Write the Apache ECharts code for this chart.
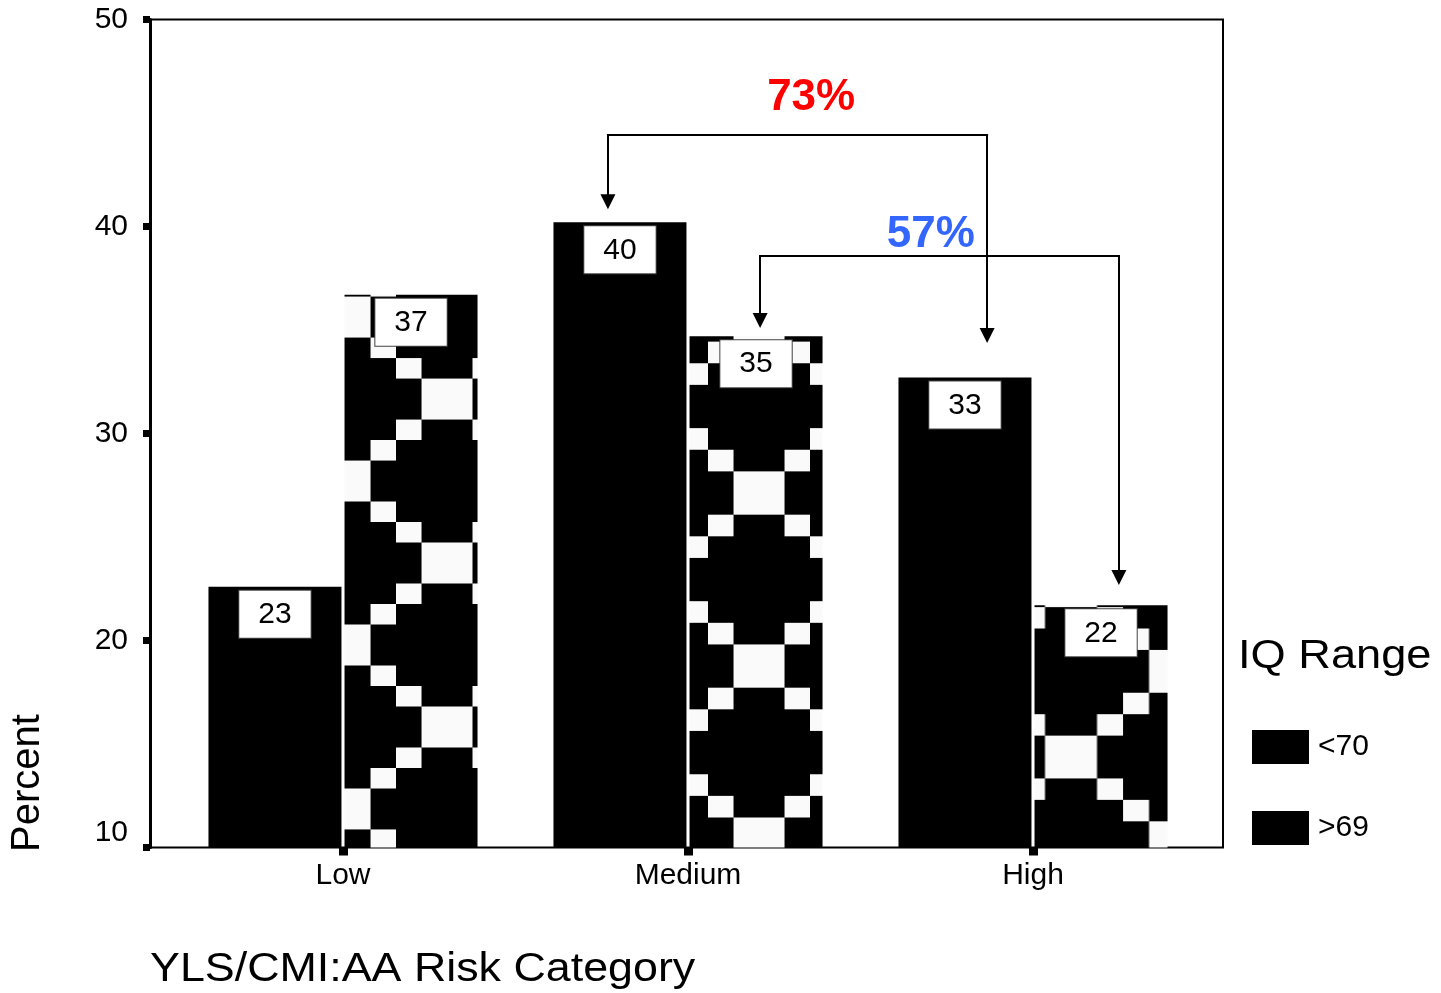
<!DOCTYPE html>
<html>
<head>
<meta charset="utf-8">
<script src="https://cdn.jsdelivr.net/npm/echarts@6/dist/echarts.min.js"></script>
<style>
html,body{margin:0;padding:0;background:#ffffff;}
#chart{width:1441px;height:993px;}
</style>
</head>
<body>
<div id="chart"></div>
<script>
// ---------------- data ----------------
const categories = ['Low', 'Medium', 'High'];
const seriesNames = ['<70', '>69'];
const below70 = [22.6, 40.2, 32.7];
const above69 = [36.7, 34.7, 21.7];
const yMin = 10, yMax = 50, yStep = 10;
const xAxisTitle = 'YLS/CMI:AA Risk Category';
const yAxisTitle = 'Percent';
const legendTitle = 'IQ Range';

// bracket annotations (x in category-index units, y in percent)
const bracketLabels = ['73%', '57%'];
const bracketX1 = [0.768, 1.209];
const bracketX2 = [1.867, 2.249];
const bracketTop = [44.42, 38.57];
const bracketEnd1 = [41.2, 35.46];
const bracketEnd2 = [34.73, 23.04];
const bracketLabelX = [1.357, 1.704];
const bracketLabelY = [46.21, 39.59];

// ---------------- styles ----------------
const FONT = '"Liberation Sans", Arial, Helvetica, sans-serif';
const bracketColors = ['#ff0000', '#3366ff'];
const patternPhase = [
  {x: 345, y: 481, sx: 1.0, sy: 0.976},
  {x: 759, y: 493, sx: 1.0, sy: 1.03},
  {x: 1071, y: 757, sx: 1.02, sy: 1.02}
];

function makeTile() {
  const u = 25.5, r = 21;
  const c = document.createElement('canvas');
  c.width = Math.round(8 * u); c.height = 8 * r;
  const g = c.getContext('2d');
  g.fillStyle = '#000'; g.fillRect(0, 0, c.width, c.height);
  g.fillStyle = '#fafafa';
  const cells = [
    [3, 3, 2, 2], [0, 0, 1, 1], [7, 0, 1, 1], [0, 7, 1, 1], [7, 7, 1, 1],
    [1, 1, 1, 1], [2, 2, 1, 1],
    [5, 2, 1, 1], [6, 1, 1, 1],
    [2, 5, 1, 1], [1, 6, 1, 1],
    [5, 5, 1, 1], [6, 6, 1, 1]
  ];
  cells.forEach(([cx, cy, w, h]) => g.fillRect(cx * u, cy * r, w * u, h * r));
  return c;
}
const tile = makeTile();
function patternFor(i) {
  const p = patternPhase[i];
  return {image: tile, repeat: 'repeat', x: p.x, y: p.y, scaleX: p.sx, scaleY: p.sy};
}

const chart = echarts.init(document.getElementById('chart'), null, {renderer: 'canvas'});

const labelStyle = {
  show: true,
  position: 'insideTop',
  distance: 4,
  formatter: p => String(Math.round(p.value)),
  fontSize: 30,
  lineHeight: 30,
  color: '#000',
  fontFamily: FONT,
  backgroundColor: '#ffffff',
  borderColor: '#444',
  borderWidth: 1,
  padding: [9, 19, 8, 19]
};

const segData = [], arrowData = [], textData = [];
for (let i = 0; i < bracketLabels.length; i++) {
  segData.push({coords: [[bracketX1[i], bracketTop[i]], [bracketX2[i], bracketTop[i]]]});
  arrowData.push({coords: [[bracketX1[i], bracketTop[i]], [bracketX1[i], bracketEnd1[i]]]});
  arrowData.push({coords: [[bracketX2[i], bracketTop[i]], [bracketX2[i], bracketEnd2[i]]]});
  textData.push({name: bracketLabels[i], value: [bracketLabelX[i], bracketLabelY[i]],
    label: {color: bracketColors[i]}});
}

const option = {
  animation: false,
  backgroundColor: '#ffffff',
  textStyle: {fontFamily: FONT, color: '#000'},
  legend: {
    orient: 'vertical', left: 1252, top: 730, padding: 0,
    itemWidth: 57, itemHeight: 34, itemGap: 47, icon: 'rect',
    selectedMode: false,
    data: seriesNames.map(n => ({name: n, itemStyle: {color: '#000'}})),
    textStyle: {fontSize: 30, color: '#000', fontFamily: FONT, padding: [0, 0, 0, 4]}
  },
  grid: [
    {left: 170.5, right: 235.5, top: 19.5, bottom: 145.5, outerBoundsMode: 'none'},
    {left: 150, right: 218, top: 19.5, bottom: 145.5, outerBoundsMode: 'none',
     show: true, borderColor: '#000', borderWidth: 2, backgroundColor: 'transparent'}
  ],
  xAxis: [
    {gridIndex: 0, type: 'category', data: categories,
     axisLine: {show: false},
     axisTick: {show: true, alignWithLabel: true, length: 8, lineStyle: {color: '#000', width: 9}},
     axisLabel: {fontSize: 30, color: '#000', margin: 13, fontFamily: FONT},
     splitLine: {show: false}},
    {gridIndex: 0, type: 'value', min: -0.5, max: 2.5, show: false, splitLine: {show: false}},
    {gridIndex: 1, type: 'value', min: 0, max: 1, show: false, splitLine: {show: false}}
  ],
  yAxis: [
    {gridIndex: 0, type: 'value', min: yMin, max: yMax, interval: yStep, show: false, splitLine: {show: false}},
    {gridIndex: 1, type: 'value', min: yMin, max: yMax, interval: yStep,
     axisLine: {show: true, lineStyle: {color: '#000', width: 3}},
     axisTick: {show: true, length: 7, lineStyle: {color: '#000', width: 7}},
     axisLabel: {fontSize: 30, color: '#000', margin: 22, fontFamily: FONT, verticalAlignMinLabel: 'bottom'},
     splitLine: {show: false}}
  ],
  graphic: [
    {type: 'text', x: 150, y: 970, scaleX: 1.12,
     style: {text: xAxisTitle, font: '40px ' + FONT, fill: '#000', align: 'left', verticalAlign: 'middle'}},
    {type: 'text', x: 28, y: 783, rotation: Math.PI / 2,
     style: {text: yAxisTitle, font: '40px ' + FONT, fill: '#000', align: 'center', verticalAlign: 'middle'}},
    {type: 'text', x: 1238, y: 657, scaleX: 1.13,
     style: {text: legendTitle, font: '40px ' + FONT, fill: '#000', align: 'left', verticalAlign: 'middle'}}
  ],
  series: [
    {name: seriesNames[0], type: 'bar', xAxisIndex: 0, yAxisIndex: 0,
     data: below70, barWidth: 133, barGap: '2.3%',
     itemStyle: {color: '#000'}, label: labelStyle},
    {name: seriesNames[1], type: 'bar', xAxisIndex: 0, yAxisIndex: 0,
     data: above69.map((v, i) => ({value: v, itemStyle: {color: patternFor(i)}})),
     barWidth: 133, label: labelStyle},
    {type: 'lines', coordinateSystem: 'cartesian2d', xAxisIndex: 1, yAxisIndex: 0,
     data: segData, symbol: 'none', silent: true, z: 5,
     lineStyle: {color: '#000', width: 2, opacity: 1, cap: 'square'}},
    {type: 'lines', coordinateSystem: 'cartesian2d', xAxisIndex: 1, yAxisIndex: 0,
     data: arrowData, symbol: ['none', 'triangle'], symbolSize: 15, silent: true, z: 5,
     lineStyle: {color: '#000', width: 2, opacity: 1, cap: 'square'}},
    {type: 'scatter', xAxisIndex: 1, yAxisIndex: 0, data: textData, symbolSize: 0, silent: true, z: 6,
     itemStyle: {opacity: 1},
     label: {show: true, position: 'inside', formatter: '{b}', fontSize: 44, fontWeight: 'bold', fontFamily: FONT, opacity: 1}}
  ]
};
chart.setOption(option);
</script>
</body>
</html>
